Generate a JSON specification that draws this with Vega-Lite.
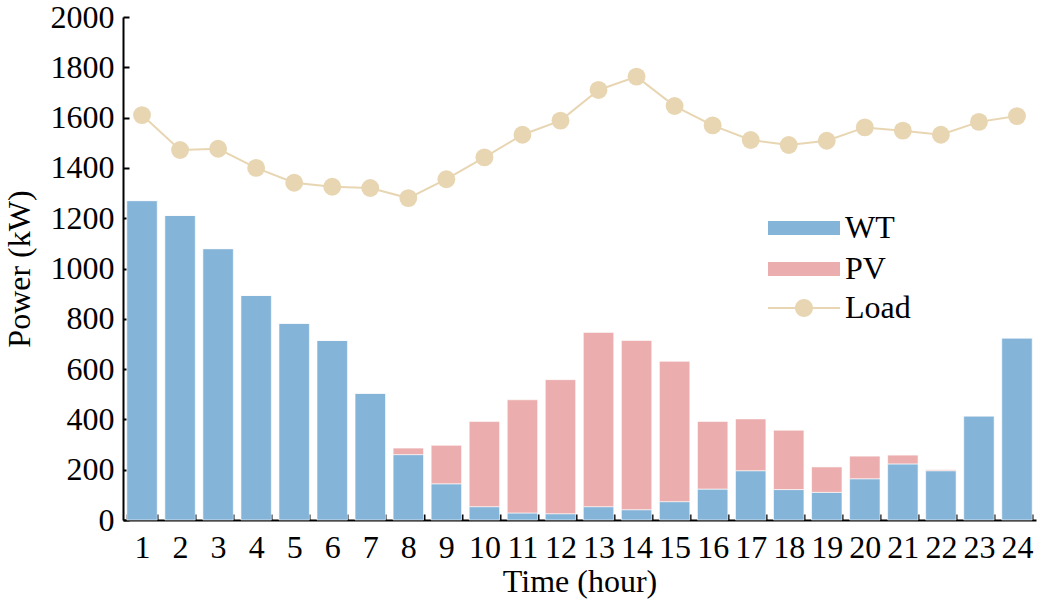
{
  "$schema": "https://vega.github.io/schema/vega-lite/v6.json",
  "width": 913,
  "height": 503,
  "autosize": {"type": "none"},
  "padding": {"left": 123, "top": 17, "right": 2, "bottom": 84},
  "background": "white",
  "config": {
    "view": {"stroke": null},
    "font": "Liberation Serif",
    "axis": {
      "labelFont": "Liberation Serif",
      "titleFont": "Liberation Serif",
      "labelFontSize": 32,
      "titleFontSize": 32,
      "titleFontWeight": "normal",
      "labelColor": "black",
      "titleColor": "black",
      "domainColor": "black",
      "domainWidth": 2,
      "tickColor": "black",
      "tickWidth": 2,
      "grid": false
    },
    "legend": {
      "labelFont": "Liberation Serif",
      "labelFontSize": 32,
      "labelColor": "black",
      "padding": 0
    }
  },
  "data": {
    "values": [
      {"hour": 1, "WT": 1270, "PV": 0, "Load": 1610},
      {"hour": 2, "WT": 1211, "PV": 0, "Load": 1471},
      {"hour": 3, "WT": 1079, "PV": 0, "Load": 1476},
      {"hour": 4, "WT": 893, "PV": 0, "Load": 1400},
      {"hour": 5, "WT": 782, "PV": 0, "Load": 1341},
      {"hour": 6, "WT": 714, "PV": 0, "Load": 1325},
      {"hour": 7, "WT": 504, "PV": 0, "Load": 1320},
      {"hour": 8, "WT": 260, "PV": 26, "Load": 1280},
      {"hour": 9, "WT": 144, "PV": 153, "Load": 1355},
      {"hour": 10, "WT": 53, "PV": 339, "Load": 1442},
      {"hour": 11, "WT": 28, "PV": 450, "Load": 1532},
      {"hour": 12, "WT": 25, "PV": 533, "Load": 1588},
      {"hour": 13, "WT": 53, "PV": 693, "Load": 1710},
      {"hour": 14, "WT": 41, "PV": 673, "Load": 1763},
      {"hour": 15, "WT": 73, "PV": 558, "Load": 1646},
      {"hour": 16, "WT": 123, "PV": 269, "Load": 1569},
      {"hour": 17, "WT": 196, "PV": 206, "Load": 1511},
      {"hour": 18, "WT": 121, "PV": 236, "Load": 1491},
      {"hour": 19, "WT": 110, "PV": 101, "Load": 1508},
      {"hour": 20, "WT": 164, "PV": 90, "Load": 1561},
      {"hour": 21, "WT": 223, "PV": 35, "Load": 1548},
      {"hour": 22, "WT": 196, "PV": 4, "Load": 1532},
      {"hour": 23, "WT": 414, "PV": 0, "Load": 1583},
      {"hour": 24, "WT": 724, "PV": 0, "Load": 1606}
    ]
  },
  "encoding": {
    "x": {
      "field": "hour",
      "type": "ordinal",
      "scale": {"paddingInner": 0.2, "paddingOuter": 0.1},
      "axis": {
        "title": "Time (hour)",
        "labelAngle": 0,
        "tickBand": "extent",
        "tickSize": -6,
        "labelPadding": 18,
        "titlePadding": 3
      }
    }
  },
  "layer": [
    {
      "transform": [{"fold": ["WT", "PV"], "as": ["key", "value"]}],
      "mark": {"type": "bar", "stroke": "white", "strokeWidth": 1, "strokeOpacity": 0.6},
      "encoding": {
        "y": {
          "field": "value",
          "type": "quantitative",
          "stack": "zero",
          "scale": {"domain": [0, 2000], "nice": false},
          "axis": {
            "title": "Power (kW)",
            "format": "d",
            "values": [0, 200, 400, 600, 800, 1000, 1200, 1400, 1600, 1800, 2000],
            "tickSize": -6,
            "labelPadding": 15,
            "titlePadding": 14
          }
        },
        "color": {
          "field": "key",
          "type": "nominal",
          "scale": {"domain": ["WT", "PV"], "range": ["#85b4d9", "#ebadad"]},
          "legend": {
            "title": null,
            "orient": "none",
            "legendX": 645,
            "legendY": 191,
            "symbolSize": 1600,
            "symbolStrokeWidth": 0,
            "symbolOpacity": 1,
            "rowPadding": 5,
            "labelOffset": 37,
            "symbolType": "M-1,-0.35H2.6V0.35H-1Z"
          }
        },
        "order": {"field": "key", "sort": "descending"}
      }
    },
    {
      "mark": {"type": "line", "strokeWidth": 2, "color": "#e8d6b3"},
      "encoding": {
        "y": {"field": "Load", "type": "quantitative"}
      }
    },
    {
      "mark": {"type": "point", "filled": true, "size": 320, "color": "#e8d6b3"},
      "encoding": {
        "y": {"field": "Load", "type": "quantitative"},
        "opacity": {
          "datum": "Load",
          "type": "nominal",
          "scale": {"type": "ordinal", "domain": ["Load"], "range": [1]},
          "legend": {
            "title": null,
            "orient": "none",
            "legendX": 645,
            "legendY": 271,
            "symbolSize": 1600,
            "symbolStrokeWidth": 0,
            "symbolFillColor": "#e8d6b3",
            "symbolOpacity": 1,
            "labelOffset": 37,
            "symbolType": "M-1,-0.05H2.6V0.05H-1Z M1.25,0A0.45,0.45 0 1,1 0.35,0A0.45,0.45 0 1,1 1.25,0Z"
          }
        }
      }
    }
  ]
}
